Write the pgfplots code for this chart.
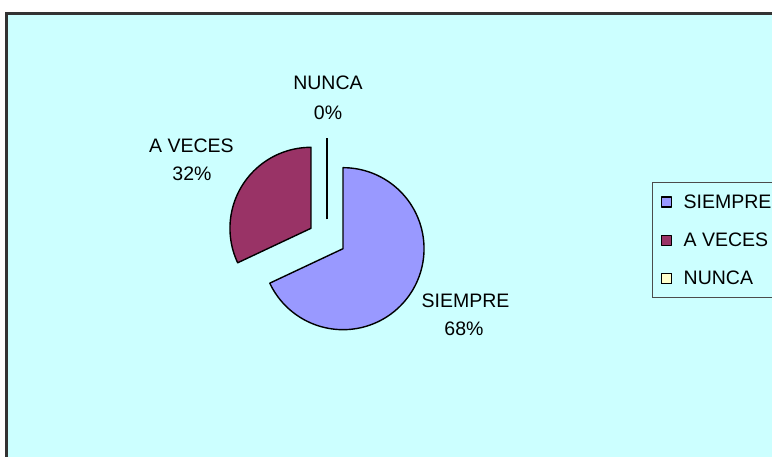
\documentclass[border=0pt]{standalone}
\usepackage{pgfplots}
\pgfplotsset{compat=1.18}
\usepackage{fontspec}
\setmainfont{Liberation Sans}
\definecolor{bgcyan}{HTML}{CCFFFF}
\definecolor{siempre}{HTML}{9999FF}
\definecolor{aveces}{HTML}{993366}
\definecolor{nunca}{HTML}{FFFFCC}
\newcommand{\lbl}{\fontsize{19.5}{22}\selectfont}
% data (percent)
\def\vSiempre{68}
\def\vAveces{32}
\def\vNunca{0}
% pie geometry (in px)
\def\cx{327}\def\cy{218.5}\def\R{81}\def\D{19}
\begin{document}
\begin{tikzpicture}
\pgfmathsetmacro{\aS}{90}
\pgfmathsetmacro{\eS}{\aS-3.6*\vSiempre}
\pgfmathsetmacro{\eA}{\eS-3.6*\vAveces}
\pgfmathsetmacro{\eN}{\eA-3.6*\vNunca}
\pgfmathsetmacro{\mS}{(\aS+\eS)/2}
\pgfmathsetmacro{\mA}{(\eS+\eA)/2}
\pgfmathsetmacro{\mN}{(\eA+\eN)/2}
\pgfmathsetmacro{\xS}{\cx+\D*cos(\mS)}
\pgfmathsetmacro{\yS}{\cy+\D*sin(\mS)}
\pgfmathsetmacro{\xA}{\cx+\D*cos(\mA)}
\pgfmathsetmacro{\yA}{\cy+\D*sin(\mA)}
\pgfmathsetmacro{\xN}{\cx+\D*cos(\mN)}
\pgfmathsetmacro{\yN}{\cy+\D*sin(\mN)}
\pgfmathsetmacro{\xNe}{\xN+\R*cos(\eA)}
\pgfmathsetmacro{\yNe}{\yN+\R*sin(\eA)}
\path[use as bounding box, clip] (0,0) rectangle (772pt,457pt);
\fill[white] (0,0) rectangle (772pt,457pt);
\begin{axis}[
  at={(0,0)}, anchor=south west,
  width=772pt, height=457pt, scale only axis,
  xmin=0, xmax=772, ymin=0, ymax=457,
  axis lines=none, ticks=none, clip=false,
  legend cell align=left,
  legend image code/.code={\draw[#1, draw=black, line width=1.2pt] (0pt,-5pt) rectangle (10pt,5pt);},
  legend style={at={(axis cs:652,275)}, anchor=north west,
    draw=black!70, line width=1pt, fill=bgcyan, font=\lbl,
    inner xsep=8pt, inner ysep=11pt, row sep=21pt,
    nodes={inner sep=1pt},
    /tikz/every odd column/.append style={column sep=11pt}},
]
\fill[bgcyan] (axis cs:6.5,-10) rectangle (axis cs:800,443.5);
\draw[line width=2.2pt, black!80] (axis cs:6.5,-10) -- (axis cs:6.5,443.5) -- (axis cs:800,443.5);

\addplot[fill=siempre, draw=black, line width=1.4pt, line join=round, domain=\eS:\aS, samples=120, variable=\t]
  ({\xS+\R*cos(t)},{\yS+\R*sin(t)}) -- (axis cs:\xS,\yS) -- cycle;
\addlegendentry{\makebox[95pt][l]{SIEMPRE}}
\addplot[fill=aveces, draw=black, line width=1.4pt, line join=round, domain=\eA:\eS, samples=80, variable=\t]
  ({\xA+\R*cos(t)},{\yA+\R*sin(t)}) -- (axis cs:\xA,\yA) -- cycle;
\addlegendentry{A VECES}
\addplot[fill=nunca, draw=black, line width=1.4pt] coordinates {(\xN,\yN) (\xNe,\yNe)};
\addlegendentry{NUNCA}

\node[anchor=base, font=\lbl] at (axis cs:328,367) {NUNCA};
\node[anchor=base, font=\lbl] at (axis cs:328,337) {0\%};
\node[anchor=base, font=\lbl] at (axis cs:191.5,304.5) {A VECES};
\node[anchor=base, font=\lbl] at (axis cs:192,276) {32\%};
\node[anchor=base, font=\lbl] at (axis cs:465.5,149.5) {SIEMPRE};
\node[anchor=base, font=\lbl] at (axis cs:464,121) {68\%};
\end{axis}
\end{tikzpicture}
\end{document}
